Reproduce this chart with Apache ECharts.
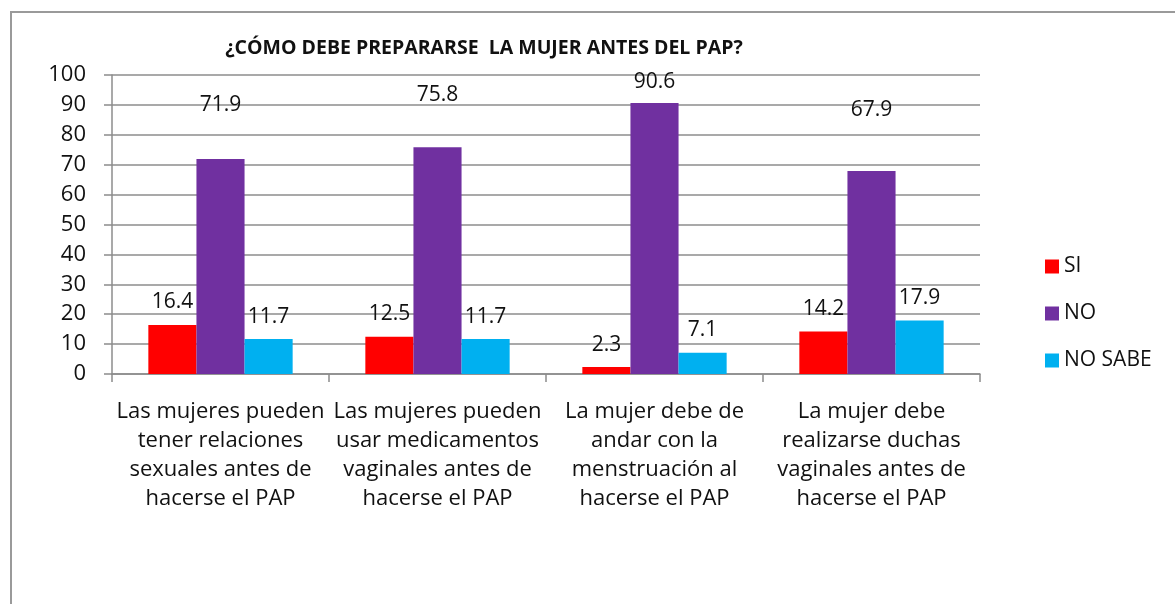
<!DOCTYPE html>
<html>
<head>
<meta charset="utf-8">
<script src="https://cdn.jsdelivr.net/npm/echarts@6/dist/echarts.min.js"></script>
<style>
  html, body { margin: 0; padding: 0; background: #fff; }
  #chart { width: 1175px; height: 604px; }
</style>
</head>
<body>
<div id="chart"></div>
<script>
const categories = [
  'Las mujeres pueden\ntener relaciones\nsexuales antes de\nhacerse el PAP',
  'Las mujeres pueden\nusar medicamentos\nvaginales antes de\nhacerse el PAP',
  'La mujer debe de\nandar con la\nmenstruación al\nhacerse el PAP',
  'La mujer debe\nrealizarse duchas\nvaginales antes de\nhacerse el PAP'
]
const siValues = [16.4, 12.5, 2.3, 14.2]
const noValues = [71.9, 75.8, 90.6, 67.9]
const noSabeValues = [11.7, 11.7, 7.1, 17.9]
const yTicks = { min: 0, max: 100, interval: 10 }

// the NO labels were dragged upward by hand in the original
const noLabelDistance = [44, 42, 11, 50]

const font = '"Open Sans", "Noto Sans", sans-serif'
const gridColor = '#8c8c8c'

function barSeries(name, data, color, distances) {
  return {
    name,
    type: 'bar',
    data: distances
      ? data.map((v, i) => ({ value: v, label: { distance: distances[i] } }))
      : data,
    barGap: '0%',
    barCategoryGap: '33.5%',
    itemStyle: { color },
    label: {
      show: true,
      position: 'top',
      distance: 12,
      fontFamily: font,
      fontSize: 21,
      color: '#111'
    }
  }
}

const chart = echarts.init(document.getElementById('chart'), null, { renderer: 'canvas' })
chart.setOption({
  animation: false,
  title: {
    text: '¿CÓMO DEBE PREPARARSE  LA MUJER ANTES DEL PAP?',
    left: 479,
    top: 33,
    textAlign: 'center',
    textStyle: { fontFamily: font, fontSize: 19.5, fontWeight: 'bold', color: '#111' }
  },
  graphic: [{
    type: 'rect',
    shape: { x: 11, y: 12, width: 1300, height: 800 },
    style: { fill: 'none', stroke: '#9a9a9a', lineWidth: 2 },
    silent: true
  }],
  legend: {
    orient: 'vertical',
    left: 1040,
    top: 251,
    itemWidth: 14,
    itemHeight: 14,
    itemGap: 26,
    icon: 'rect',
    textStyle: { fontFamily: font, fontSize: 21, color: '#111' },
    data: ['SI', 'NO', 'NO SABE']
  },
  grid: { left: 112, right: 195, top: 75, bottom: 230, containLabel: false },
  xAxis: {
    type: 'category',
    data: categories,
    axisLine: { lineStyle: { color: gridColor, width: 1.5 } },
    axisTick: { show: true, length: 8, lineStyle: { color: gridColor, width: 1.5 } },
    axisLabel: {
      interval: 0,
      margin: 23,
      fontFamily: font,
      fontSize: 22,
      lineHeight: 29,
      color: '#111',
      align: 'center'
    }
  },
  yAxis: {
    type: 'value',
    min: yTicks.min,
    max: yTicks.max,
    interval: yTicks.interval,
    axisLine: { show: true, lineStyle: { color: gridColor, width: 1.5 } },
    axisTick: { show: true, length: 8, lineStyle: { color: gridColor, width: 1.5 } },
    splitLine: { lineStyle: { color: gridColor, width: 1.5 } },
    axisLabel: { margin: 26, fontFamily: font, fontSize: 22, color: '#111' }
  },
  series: [
    barSeries('SI', siValues, '#ff0000'),
    barSeries('NO', noValues, '#7030a0', noLabelDistance),
    barSeries('NO SABE', noSabeValues, '#00b0f0')
  ]
})
</script>
</body>
</html>
